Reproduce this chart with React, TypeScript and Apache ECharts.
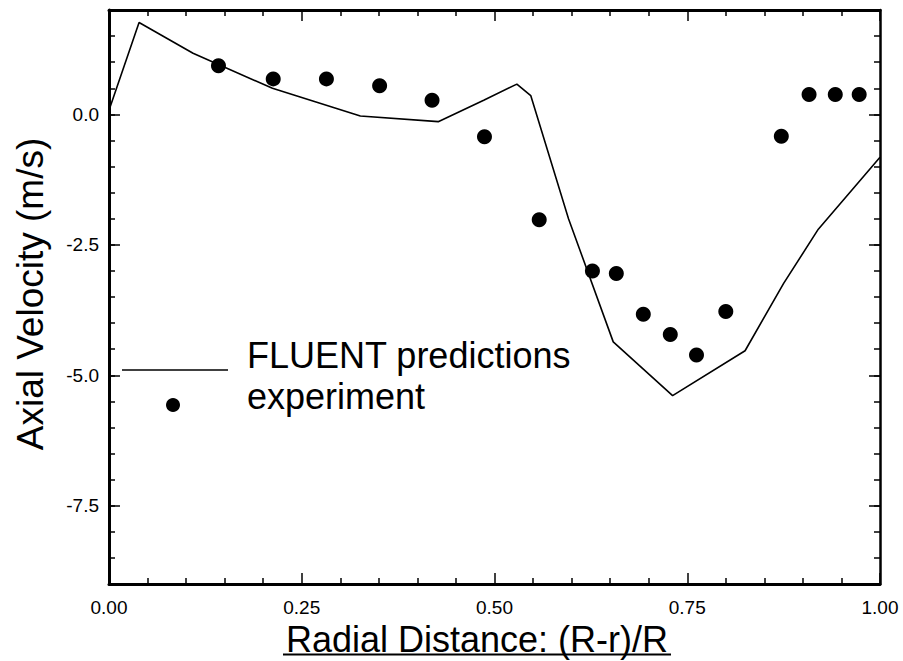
import React, { useEffect, useRef } from "react";
import * as echarts from "echarts";

// FLUENT predictions (line)
const fluentX = [0.0, 0.039, 0.109, 0.212, 0.326, 0.427, 0.486, 0.529, 0.547, 0.596, 0.654, 0.731, 0.825, 0.875, 0.92, 1.0];
const fluentY = [0.08, 1.76, 1.17, 0.5, -0.03, -0.14, 0.27, 0.58, 0.36, -2.0, -4.36, -5.39, -4.53, -3.24, -2.2, -0.82];

// experiment (dots)
const expX = [0.142, 0.213, 0.282, 0.351, 0.419, 0.487, 0.558, 0.627, 0.658, 0.693, 0.728, 0.762, 0.8, 0.872, 0.908, 0.942, 0.973];
const expY = [0.93, 0.68, 0.68, 0.55, 0.27, -0.43, -2.02, -3.0, -3.05, -3.83, -4.22, -4.61, -3.78, -0.42, 0.38, 0.38, 0.38];

const yMajorTicks = [-7.5, -5.0, -2.5, 0.0];
const seriesNames = ["FLUENT predictions", "experiment"];
const xTitle = "Radial Distance: (R-r)/R";
const yTitle = "Axial Velocity (m/s)";

const FONT = "'Liberation Sans', Arial, Helvetica, sans-serif";

export default function App() {
  const ref = useRef<HTMLDivElement>(null);

  useEffect(() => {
    if (!ref.current) return;
    const chart = echarts.init(ref.current, null, { renderer: "svg" });

    const black = "#000";
    const xBase = {
      type: "value" as const,
      min: 0,
      max: 1,
      interval: 0.25,
      splitLine: { show: false },
      minorSplitLine: { show: false },
      minorTick: { show: true, splitNumber: 5, length: 6, lineStyle: { color: black, width: 1.5 } },
      axisTick: { show: true, inside: true, length: 11, lineStyle: { color: black, width: 1.5 } },
    };
    const yBase = {
      type: "value" as const,
      min: -9,
      max: 2,
      interval: 0.5,
      splitLine: { show: false },
    };

    const option: any = {
      animation: false,
      backgroundColor: "#fff",
      grid: { left: 109, right: 23, top: 10, bottom: 77, containLabel: false, outerBoundsMode: "none" },
      xAxis: [
        {
          ...xBase,
          position: "bottom",
          axisLine: { show: true, onZero: false, lineStyle: { color: black, width: 3 } },
          axisLabel: {
            show: true,
            formatter: (v: number) => v.toFixed(2),
            fontSize: 19,
            color: black,
            fontFamily: FONT,
            margin: 14,
          },
        },
        {
          ...xBase,
          position: "top",
          axisLine: { show: true, onZero: false, lineStyle: { color: black, width: 3 } },
          axisLabel: { show: false },
        },
      ],
      yAxis: [
        {
          ...yBase,
          position: "left",
          axisLine: { show: true, onZero: false, lineStyle: { color: black, width: 3 } },
          axisTick: { show: true, inside: true, length: 6, lineStyle: { color: black, width: 1.5 } },
          axisLabel: { show: false },
        },
        {
          ...yBase,
          position: "left",
          axisLine: { show: false, onZero: false },
          axisTick: {
            show: true,
            inside: true,
            length: 11,
            customValues: yMajorTicks,
            lineStyle: { color: black, width: 1.5 },
          },
          axisLabel: {
            show: true,
            customValues: yMajorTicks,
            formatter: (v: number) => v.toFixed(1),
            fontSize: 19,
            color: black,
            fontFamily: FONT,
            margin: 10,
          },
        },
        {
          ...yBase,
          position: "right",
          axisLine: { show: true, onZero: false, lineStyle: { color: black, width: 2.5 } },
          axisTick: { show: true, inside: true, length: 6, lineStyle: { color: black, width: 1.5 } },
          axisLabel: { show: false },
        },
        {
          ...yBase,
          position: "right",
          axisLine: { show: false, onZero: false },
          axisTick: {
            show: true,
            inside: true,
            length: 11,
            customValues: yMajorTicks,
            lineStyle: { color: black, width: 1.5 },
          },
          axisLabel: { show: false, customValues: yMajorTicks },
        },
      ],
      series: [
        {
          name: seriesNames[0],
          type: "line",
          xAxisIndex: 0,
          yAxisIndex: 0,
          data: fluentX.map((x, i) => [x, fluentY[i]]),
          symbol: "none",
          lineStyle: { color: black, width: 1.6 },
          z: 3,
        },
        {
          name: seriesNames[1],
          type: "scatter",
          xAxisIndex: 0,
          yAxisIndex: 0,
          data: expX.map((x, i) => [x, expY[i]]),
          symbol: "circle",
          symbolSize: 15,
          itemStyle: { color: black, opacity: 1 },
          z: 4,
        },
      ],
      graphic: [
        {
          type: "line",
          shape: { x1: 122, y1: 370, x2: 228, y2: 370 },
          style: { stroke: black, lineWidth: 1.6 },
        },
        {
          type: "circle",
          shape: { cx: 173, cy: 405, r: 7 },
          style: { fill: black },
        },
        {
          type: "text",
          x: 247,
          y: 355.5,
          style: {
            text: seriesNames[0],
            fill: black,
            fontSize: 36,
            fontFamily: FONT,
            align: "left",
            verticalAlign: "middle",
          },
        },
        {
          type: "text",
          x: 247,
          y: 396.5,
          style: {
            text: seriesNames[1],
            fill: black,
            fontSize: 36,
            fontFamily: FONT,
            align: "left",
            verticalAlign: "middle",
          },
        },
        {
          type: "text",
          x: 477,
          y: 639.5,
          style: {
            text: xTitle,
            fill: black,
            fontSize: 36,
            fontFamily: FONT,
            align: "center",
            verticalAlign: "middle",
          },
        },
        {
          type: "line",
          shape: { x1: 283, y1: 654.5, x2: 671, y2: 654.5 },
          style: { stroke: black, lineWidth: 1.8 },
        },
        {
          type: "text",
          x: 30,
          y: 294,
          rotation: Math.PI / 2,
          style: {
            text: yTitle,
            fill: black,
            fontSize: 37,
            fontFamily: FONT,
            align: "center",
            verticalAlign: "middle",
          },
        },
      ],
    };

    chart.setOption(option);
    return () => chart.dispose();
  }, []);

  return (
    <div
      ref={ref}
      style={{ position: "fixed", left: 0, top: 0, width: 903, height: 661, background: "#fff" }}
    />
  );
}
